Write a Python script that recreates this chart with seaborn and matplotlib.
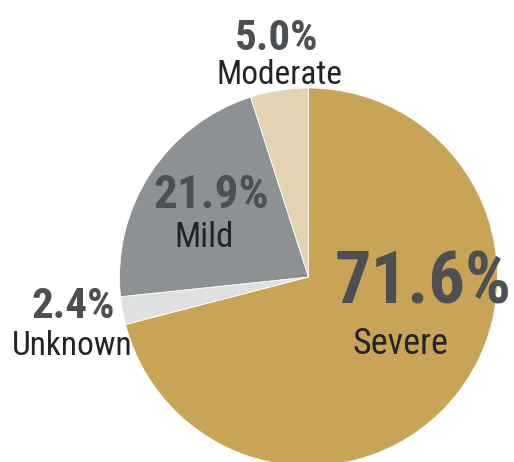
import matplotlib
matplotlib.use("Agg")
import matplotlib.pyplot as plt
import seaborn as sns

sns.set_theme(style="white")
plt.rcParams['font.family'] = ['Roboto Condensed', 'DejaVu Sans']

categories = ["Severe", "Unknown", "Mild", "Moderate"]
values = [71.6, 2.4, 21.9, 5.0]
colors = ["#C9A456", "#DFE1E0", "#8E9194", "#E3D3B2"]
pct_labels = ["71.6%", "2.4%", "21.9%", "5.0%"]

W, H = 514, 462
cx, cy, r = 308.5, 277, 189

fig = plt.figure(figsize=(W / 100, H / 100), dpi=100)
ax = fig.add_axes([0, 0, 1, 1])
ax.pie(values, colors=colors, startangle=90, counterclock=False,
       wedgeprops=dict(linewidth=0.6, edgecolor="white"), radius=1)
ax.set_xlim(-cx / r, (W - cx) / r)
ax.set_ylim(-(H - cy) / r, cy / r)
ax.set_aspect("auto")
ax.axis("off")

def px(x, y):
    return (x - cx) / r, (cy - y) / r

pct_color = "#4D5053"
lab_color = "#222426"

# (pct center-x/baseline, pct size, label center-x/baseline, label size)
layout = {
    "Severe": ((423, 303), 52, (400, 354), 26),
    "Unknown": ((73, 318), 31, (72, 355), 24),
    "Mild": ((211, 208), 34, (204, 247), 25),
    "Moderate": ((277, 50), 31, (279, 84), 24),
}
for cat, pct in zip(categories, pct_labels):
    (p, ps, l, ls) = layout[cat]
    ax.text(*px(*p), pct, ha="center", va="baseline", fontsize=ps,
            fontweight="bold", color=pct_color)
    ax.text(*px(*l), cat, ha="center", va="baseline", fontsize=ls,
            color=lab_color)

fig.savefig("out.png", dpi=100)
